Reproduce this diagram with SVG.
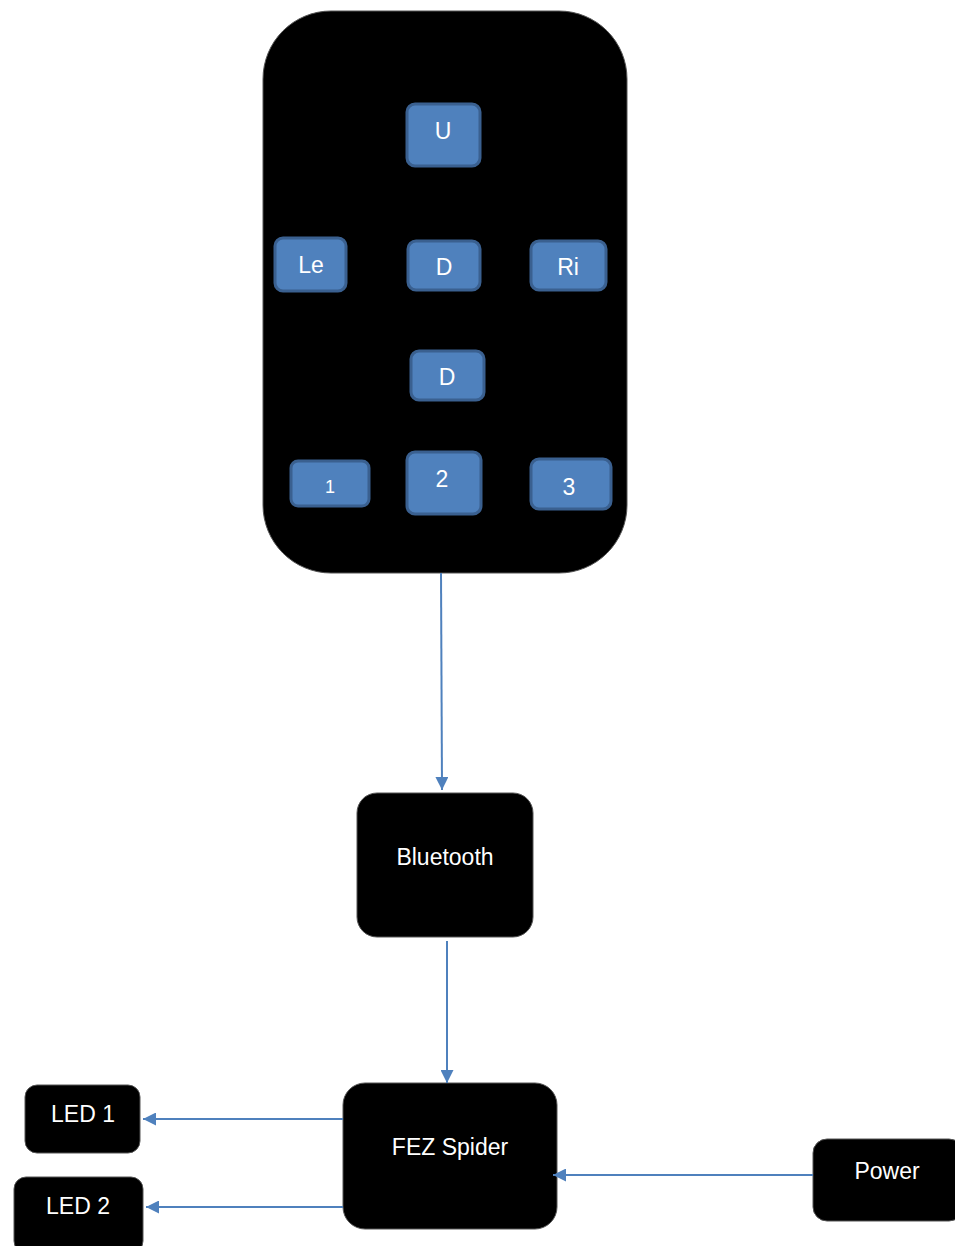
<svg xmlns="http://www.w3.org/2000/svg" width="955" height="1246" viewBox="0 0 955 1246">
<style>
.blk{fill:#000;stroke:#555;stroke-width:1}
.btn{fill:#4F81BD;stroke:#3A6090;stroke-width:3}
.t{font-family:"Liberation Sans",Arial,sans-serif;fill:#fff;text-anchor:middle;dominant-baseline:central;font-size:23px}
.c{stroke:#4F81BD;stroke-width:2;fill:none;marker-end:url(#ah)}
</style>
<defs>
<marker id="ah" viewBox="0 0 10 10" refX="10" refY="5" markerWidth="6.5" markerHeight="6.5" orient="auto" markerUnits="strokeWidth">
<path d="M0,0 L10,5 L0,10 z" fill="#4F81BD"/>
</marker>
</defs>
<rect x="0" y="0" width="955" height="1246" fill="#fff"/>
<g id="remote">
<rect class="blk" x="263" y="11" width="364" height="562" rx="68"/>
<g id="btn-u"><rect class="btn" x="407" y="104" width="73" height="62" rx="8"/><text class="t" x="443" y="131">U</text></g>
<g id="btn-le"><rect class="btn" x="275" y="238" width="71" height="53" rx="8"/><text class="t" x="311" y="265">Le</text></g>
<g id="btn-d1"><rect class="btn" x="408" y="241" width="72" height="49" rx="8"/><text class="t" x="444" y="267">D</text></g>
<g id="btn-ri"><rect class="btn" x="531" y="241" width="75" height="49" rx="8"/><text class="t" x="568" y="267">Ri</text></g>
<g id="btn-d2"><rect class="btn" x="411" y="351" width="73" height="49" rx="8"/><text class="t" x="447" y="377">D</text></g>
<g id="btn-1"><rect class="btn" x="291" y="461" width="78" height="45" rx="7"/><text class="t" x="330" y="487" style="font-size:18px">1</text></g>
<g id="btn-2"><rect class="btn" x="407" y="452" width="74" height="62" rx="8"/><text class="t" x="442" y="479">2</text></g>
<g id="btn-3"><rect class="btn" x="531" y="459" width="80" height="50" rx="8"/><text class="t" x="569" y="487">3</text></g>
</g>
<g id="bluetooth"><rect class="blk" x="357" y="793" width="176" height="144" rx="20"/><text class="t" x="445" y="857">Bluetooth</text></g>
<g id="fez"><rect class="blk" x="343" y="1083" width="214" height="146" rx="22"/><text class="t" x="450" y="1147">FEZ Spider</text></g>
<g id="led1"><rect class="blk" x="25" y="1085" width="115" height="68" rx="12"/><text class="t" x="83" y="1114">LED 1</text></g>
<g id="led2"><rect class="blk" x="14" y="1177" width="129" height="76" rx="12"/><text class="t" x="78" y="1206">LED 2</text></g>
<g id="power"><rect class="blk" x="813" y="1139" width="150" height="82" rx="14"/><text class="t" x="887" y="1171">Power</text></g>
<g id="connectors">
<line class="c" x1="441" y1="573" x2="442" y2="790"/>
<line class="c" x1="447" y1="941" x2="447" y2="1083"/>
<line class="c" x1="343" y1="1119" x2="143" y2="1119"/>
<line class="c" x1="343" y1="1207" x2="146" y2="1207"/>
<line class="c" x1="813" y1="1175" x2="553" y2="1175"/>
</g>
</svg>
